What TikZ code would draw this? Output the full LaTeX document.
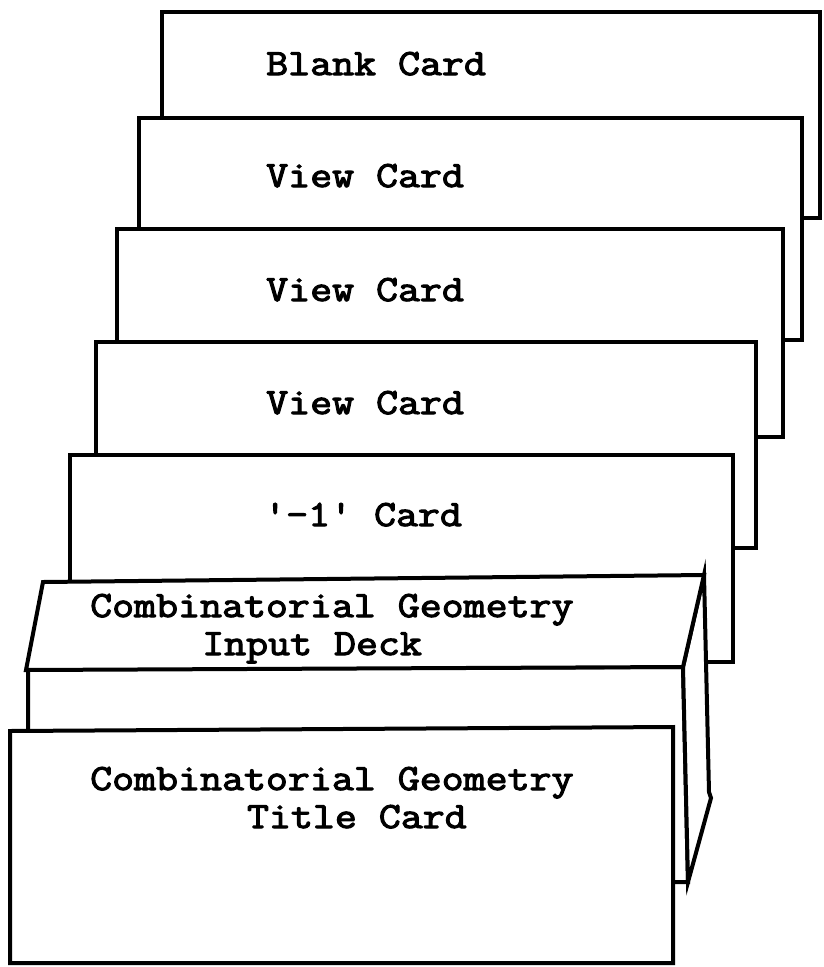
\documentclass[tikz,border=0pt]{standalone}
\usepackage{fontspec}
\newfontfamily\typew[AutoFakeBold=3,FakeStretch=1.153]{Latin Modern Mono}
\newcommand\cardfont{\typew\bfseries\fontsize{37pt}{38pt}\selectfont}
\begin{document}
\begin{tikzpicture}[x=1pt,y=-1pt,
  card/.style={draw=black, fill=white, line width=4pt, line join=miter},
  lbl/.style={anchor=base west, inner sep=0pt, font=\cardfont}]
\useasboundingbox (0,0) rectangle (823,967);
% back to front
\draw[card] (162,12) rectangle (820,218);
\node[lbl] (blank) at (266,75) {Blank Card};
\draw[card] (139,118) rectangle (802,340);
\node[lbl] (view1) at (266,187) {View Card};
\draw[card] (117,229) rectangle (783,437);
\node[lbl] (view2) at (266,301) {View Card};
\draw[card] (96,342) rectangle (756,548);
\node[lbl] (view3) at (266,414) {View Card};
\draw[card] (70,455) rectangle (733,662);
\node[lbl] (minus) at (264,526) {'-1' Card};
% input deck box
\draw[card] (28,669) -- (683,667) -- (688,882) -- (28,882) -- cycle;
\draw[card] (704,575) -- (709,792) -- (711,798) -- (688,882) -- (683,667) -- cycle;
\draw[card] (43,582) -- (704,575) -- (683,667) -- (26,670) -- cycle;
\node[lbl] (deck1) at (90,617) {Combinatorial Geometry};
\node[lbl] (deck2) at (202,655) {Input Deck};
% title card
\draw[card] (10,731) -- (673,727) -- (673,963) -- (10,963) -- cycle;
\node[lbl] (title1) at (90,790) {Combinatorial Geometry};
\node[lbl] (title2) at (246.8,828) {Title Card};
\end{tikzpicture}
\end{document}
